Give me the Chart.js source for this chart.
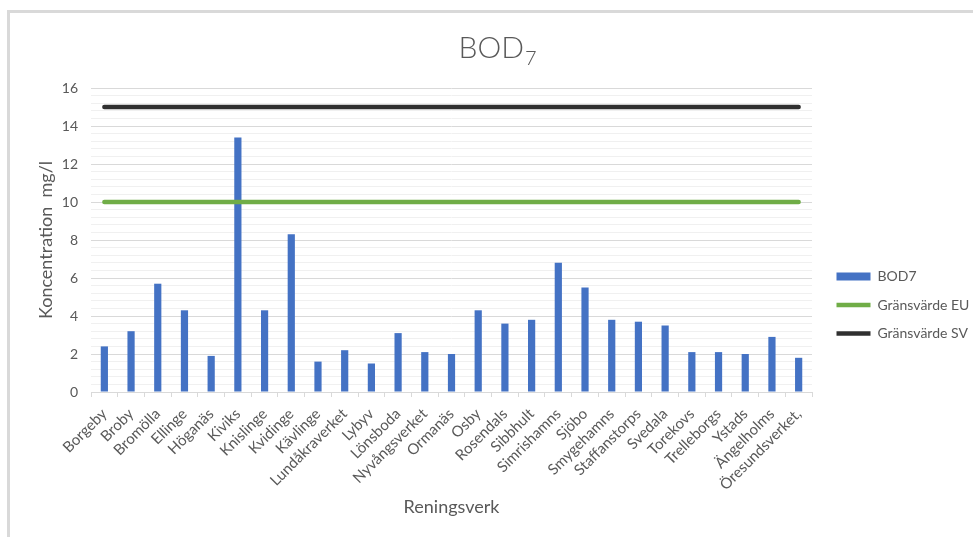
<!DOCTYPE html>
<html lang="sv">
<head>
<meta charset="utf-8">
<title>BOD7</title>
<script src="https://cdn.jsdelivr.net/npm/chart.js@4.4.1/dist/chart.umd.min.js"></script>
<style>
  html, body { margin: 0; padding: 0; background: #fff; }
  #wrap { position: relative; width: 973px; height: 537px; overflow: hidden; }
  #frame { position: absolute; left: 7px; top: 10px; width: 990px; height: 560px;
           border-left: 3px solid #d9d9d9; border-top: 3px solid #d9d9d9; pointer-events: none; }
  canvas { position: absolute; left: 0; top: 0; }
</style>
</head>
<body>
<div id="wrap">
  <canvas id="chart" width="973" height="537"></canvas>
  <div id="frame"></div>
</div>
<script>
// Reningsverk (wastewater treatment plants)
const categories = [
  'Borgeby', 'Broby', 'Bromölla', 'Ellinge', 'Höganäs', 'Kiviks', 'Knislinge',
  'Kvidinge', 'Kävlinge', 'Lundåkraverket', 'Lybyv', 'Lönsboda', 'Nyvångsverket',
  'Ormanäs', 'Osby', 'Rosendals', 'Sibbhult', 'Simrishamns', 'Sjöbo', 'Smygehamns',
  'Staffanstorps', 'Svedala', 'Torekovs', 'Trelleborgs', 'Ystads', 'Ängelholms',
  'Öresundsverket,'
];

// BOD7 concentration, mg/l
const bod7 = [
  2.4, 3.2, 5.7, 4.3, 1.9, 13.4, 4.3,
  8.3, 1.6, 2.2, 1.5, 3.1, 2.1,
  2.0, 4.3, 3.6, 3.8, 6.8, 5.5, 3.8,
  3.7, 3.5, 2.1, 2.1, 2.0, 2.9,
  1.8
];

// Limit values, mg/l
const gransvardeEU = [10, 10, 10, 10, 10, 10, 10, 10, 10, 10, 10, 10, 10, 10,
                      10, 10, 10, 10, 10, 10, 10, 10, 10, 10, 10, 10, 10];
const gransvardeSV = [15, 15, 15, 15, 15, 15, 15, 15, 15, 15, 15, 15, 15, 15,
                      15, 15, 15, 15, 15, 15, 15, 15, 15, 15, 15, 15, 15];

const seriesNames = ['BOD7', 'Gränsvärde EU', 'Gränsvärde SV'];

// Value axis: 0–16, labelled every 2, fine grid every 0.4
const yMin = 0, yMax = 16, yMajorStep = 2, yMinorStep = 0.4;

const textColor = '#595959';
const fontFamily = 'Lato, "Open Sans", sans-serif';

const isMajor = v => Math.abs(v / yMajorStep - Math.round(v / yMajorStep)) < 1e-6;

// Title with a subscript 7
const subscriptTitle = {
  id: 'subscriptTitle',
  afterDraw(chart) {
    const ctx = chart.ctx;
    const mainFont = '300 30px ' + fontFamily;
    const subFont = '300 20px ' + fontFamily;
    ctx.save();
    ctx.fillStyle = textColor;
    ctx.textBaseline = 'alphabetic';
    ctx.textAlign = 'left';
    ctx.font = mainFont;
    const wMain = ctx.measureText('BOD').width;
    ctx.font = subFont;
    const wSub = ctx.measureText('7').width;
    const x0 = 497 - (wMain + wSub) / 2;
    ctx.font = mainFont;
    ctx.fillText('BOD', x0, 58);
    ctx.font = subFont;
    ctx.fillText('7', x0 + wMain + 1, 65);
    ctx.restore();
  }
};

// Place the legend block beside the plot, a little below its middle
const legendPlacement = {
  id: 'legendPlacement',
  afterLayout(chart) {
    const lg = chart.legend;
    if (!lg) return;
    lg.left = 822;
    lg.right = 973;
    lg.top = 255;
    lg.bottom = 537;
  }
};

new Chart(document.getElementById('chart'), {
  type: 'bar',
  data: {
    labels: categories,
    datasets: [
      {
        type: 'bar',
        label: seriesNames[0],
        data: bod7,
        backgroundColor: '#4472C4',
        borderWidth: 0,
        barPercentage: 0.27,
        categoryPercentage: 1,
        pointStyle: 'rect',
        order: 2
      },
      {
        type: 'line',
        label: seriesNames[1],
        data: gransvardeEU,
        borderColor: '#70AD47',
        backgroundColor: '#70AD47',
        borderWidth: 4.5,
        borderCapStyle: 'round',
        pointRadius: 0,
        pointHoverRadius: 0,
        pointStyle: 'line',
        fill: false,
        tension: 0,
        order: 1
      },
      {
        type: 'line',
        label: seriesNames[2],
        data: gransvardeSV,
        borderColor: '#303030',
        backgroundColor: '#303030',
        borderWidth: 4.5,
        borderCapStyle: 'round',
        pointRadius: 0,
        pointHoverRadius: 0,
        pointStyle: 'line',
        fill: false,
        tension: 0,
        order: 1
      }
    ]
  },
  options: {
    responsive: false,
    animation: false,
    devicePixelRatio: 1,
    layout: { padding: { left: 32, top: 88, right: 21, bottom: 18 } },
    plugins: {
      title: { display: false },
      tooltip: { enabled: false },
      legend: {
        display: true,
        position: 'right',
        align: 'start',
        maxWidth: 140,
        labels: {
          usePointStyle: true,
          pointStyleWidth: 34,
          boxHeight: 8,
          padding: 14.5,
          color: textColor,
          font: { family: fontFamily, size: 14 },
          sort: (a, b) => a.datasetIndex - b.datasetIndex
        }
      }
    },
    scales: {
      x: {
        type: 'category',
        offset: true,
        afterFit(scale) { scale.height = 127; },
        grid: {
          display: true,
          offset: true,
          drawOnChartArea: false,
          drawTicks: true,
          tickLength: 5,
          color: '#d9d9d9'
        },
        border: { display: true, color: '#d9d9d9', width: 1 },
        ticks: {
          autoSkip: false,
          minRotation: 45,
          maxRotation: 45,
          padding: 8,
          color: textColor,
          font: { family: fontFamily, size: 15 }
        },
        title: {
          display: true,
          text: 'Reningsverk',
          color: textColor,
          font: { family: fontFamily, size: 18 },
          padding: { top: 4, bottom: 1 }
        }
      },
      y: {
        min: yMin,
        max: yMax,
        afterFit(scale) { scale.width = 59; },
        grid: {
          drawTicks: false,
          color: ctx => (ctx.tick && isMajor(ctx.tick.value)) ? '#d9d9d9' : '#f0f0f0',
          lineWidth: 1
        },
        border: { display: false },
        ticks: {
          stepSize: yMinorStep,
          autoSkip: false,
          padding: 13,
          color: textColor,
          font: { family: fontFamily, size: 14 },
          callback: v => isMajor(v) ? String(Math.round(v)) : ''
        },
        title: {
          display: true,
          text: 'Koncentration  mg/l',
          color: textColor,
          font: { family: fontFamily, size: 18 },
          padding: { top: 3, bottom: 4 }
        }
      }
    }
  },
  plugins: [subscriptTitle, legendPlacement]
});
</script>
</body>
</html>
